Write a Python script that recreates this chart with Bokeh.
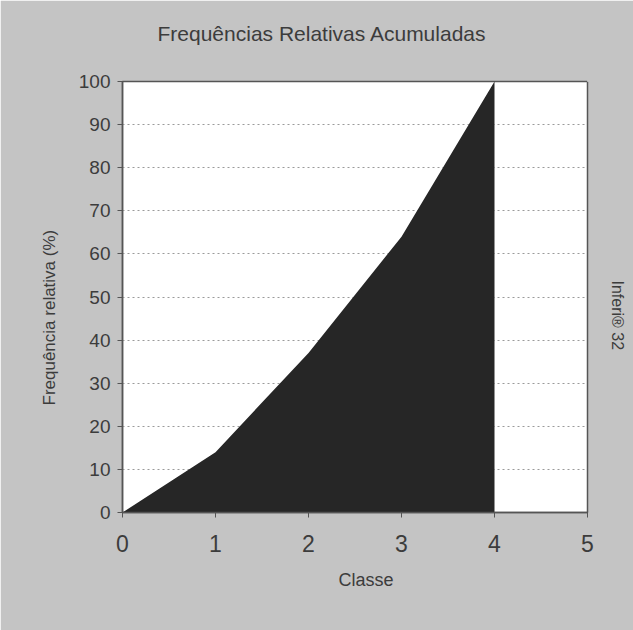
from bokeh.plotting import figure
from bokeh.models import Title, Range1d, FixedTicker, LinearAxis
from bokeh.embed import file_html
from bokeh.resources import INLINE

# Data
classes = [0, 1, 2, 3, 4]
cum_freq = [0, 14, 37, 64, 100]
x_ticks = [0, 1, 2, 3, 4, 5]
y_ticks = [0, 10, 20, 30, 40, 50, 60, 70, 80, 90, 100]
title_text = "Frequências Relativas Acumuladas"
x_label = "Classe"
y_label = "Frequência relativa (%)"
side_text = "Inferi® 32"

FONT = "Liberation Sans"
TXT = "#3c3c3c"
BG = "#c4c4c4"

p = figure(width=633, height=630, output_backend="svg", toolbar_location=None, title=None,
           x_range=Range1d(0, 5), y_range=Range1d(0, 100),
           min_border_left=122, min_border_right=46, min_border_top=81, min_border_bottom=118)
p.background_fill_color = "white"
p.border_fill_color = BG
p.outline_line_color = "#555555"
p.outline_line_width = 1.5

p.varea(x=classes, y1=0, y2=cum_freq, fill_color="#262626")

# Main axes (configured before any spacer axes are added)
xax = p.xaxis[0]
yax = p.yaxis[0]
xax.ticker = FixedTicker(ticks=x_ticks)
yax.ticker = FixedTicker(ticks=y_ticks)
for ax in (xax, yax):
    ax.axis_line_color = "#555555"
    ax.axis_line_width = 1.5
    ax.major_tick_line_color = "#555555"
    ax.major_tick_in = 0
    ax.major_tick_out = 5
    ax.minor_tick_line_color = None
    ax.major_label_text_font = FONT
    ax.major_label_text_color = TXT

xax.major_label_text_font_size = "23px"
xax.major_label_standoff = 17
yax.major_label_text_font_size = "19px"
yax.major_label_standoff = 7

p.xgrid.grid_line_color = None
p.ygrid.grid_line_color = "#9a9a9a"
p.ygrid.grid_line_dash = "2 3"
p.ygrid.grid_line_width = 1


def spacer(size, tick):
    # an axis drawn in the background colour, used only to reserve space
    return LinearAxis(ticker=FixedTicker(ticks=[tick]), major_label_overrides={tick: ""},
                      major_tick_out=size, major_tick_in=0, minor_tick_out=0, minor_tick_in=0,
                      major_tick_line_color=BG, minor_tick_line_color=None,
                      axis_line_color=None, major_label_standoff=0,
                      major_label_text_color=BG, major_label_text_font_size="1px")


def txt_title(text, size, **kw):
    return Title(text=text, text_font=FONT, text_font_size=size, text_font_style="normal",
                 text_color=TXT, **kw)


# Spacers keep the texts away from the frame without resizing it
p.add_layout(spacer(37, x_ticks[-1]), "above")
p.add_layout(txt_title(title_text, "21px", align="left", offset=35, standoff=0), "above")
p.add_layout(spacer(21, y_ticks[-1]), "right")
p.add_layout(txt_title(side_text, "16px", align="left", offset=199, standoff=0), "right")

# Axis titles (placed as side titles so they can be shifted along the axis)
p.add_layout(txt_title(x_label, "18px", align="left", offset=216, standoff=26), "below")
p.add_layout(txt_title(y_label, "17px", align="left", offset=107, standoff=34), "left")

open("out.html", "w").write(file_html(p, INLINE))
